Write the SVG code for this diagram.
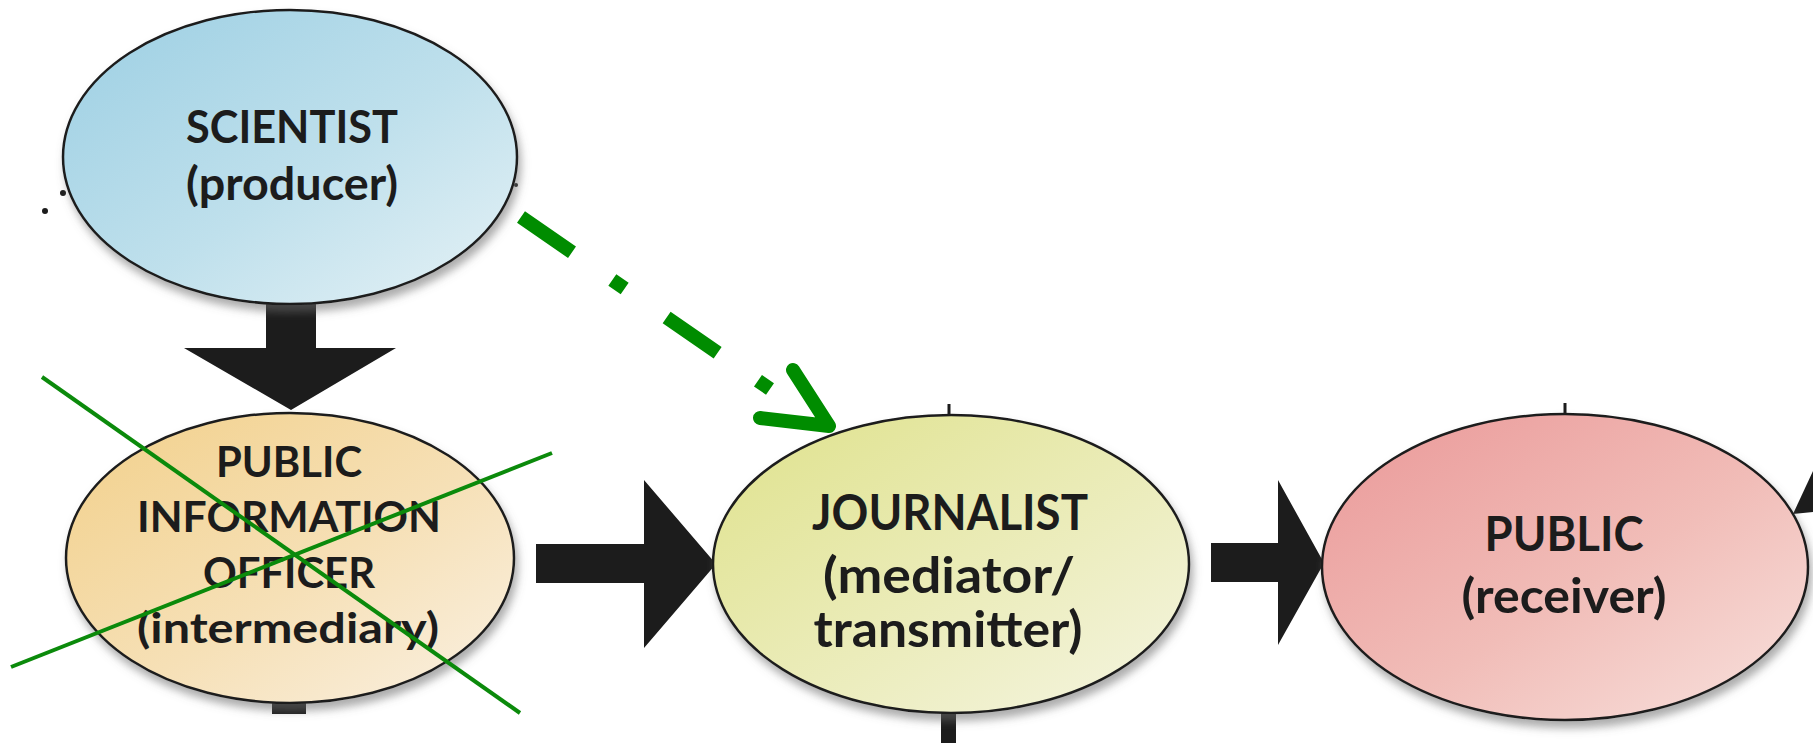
<svg xmlns="http://www.w3.org/2000/svg" width="1813" height="743" viewBox="0 0 1813 743">
<style>
.node ellipse{stroke:#1e1e1e;stroke-width:2.5}
.lbl{font-family:"Lato","Open Sans","Liberation Sans",Arial,sans-serif;font-weight:700;fill:#1c1c1c;text-anchor:middle}
.blk{fill:#1c1c1c}
.xline{stroke:#0b8a0b;stroke-width:4;stroke-linecap:butt}
.gdash{stroke:#008c00;stroke-width:14;fill:none}
</style>
<defs>
<filter id="sh" x="-10%" y="-10%" width="125%" height="130%">
<feDropShadow dx="3" dy="7" stdDeviation="4" flood-color="#6b6b6b" flood-opacity="0.55"/>
</filter>
<linearGradient id="gBlue" x1="0" y1="0" x2="1" y2="1">
<stop offset="0" stop-color="#9ccfe3"/><stop offset="0.55" stop-color="#bfe0ec"/><stop offset="1" stop-color="#e6f2f6"/>
</linearGradient>
<linearGradient id="gOrange" x1="0" y1="0" x2="1" y2="1">
<stop offset="0" stop-color="#f2d08a"/><stop offset="0.55" stop-color="#f6e0b6"/><stop offset="1" stop-color="#faf1e3"/>
</linearGradient>
<linearGradient id="gYellow" x1="0" y1="0" x2="1" y2="1">
<stop offset="0" stop-color="#dfe28c"/><stop offset="0.55" stop-color="#ebecba"/><stop offset="1" stop-color="#f5f5e2"/>
</linearGradient>
<linearGradient id="gRed" x1="0" y1="0" x2="1" y2="1">
<stop offset="0" stop-color="#ea9898"/><stop offset="0.55" stop-color="#f1bdb8"/><stop offset="1" stop-color="#f8e2de"/>
</linearGradient>
</defs>
<rect width="1813" height="743" fill="#ffffff"/>

<g id="connectors">
<polygon class="blk" points="266,298 316,298 316,348 396,348 291,410 184,348 266,348"/>
<polygon class="blk" points="536,544 644,544 644,480 716,564 644,648 644,583 536,583"/>
<polygon class="blk" points="1211,543 1278,543 1278,480 1324,563 1278,645 1278,582 1211,582"/>
<polygon class="blk" points="1793,514 1813,471 1813,512"/>
<rect class="blk" x="272" y="700" width="34" height="14"/>
<rect class="blk" x="941" y="705" width="15" height="38"/>
<rect class="blk" x="947.5" y="404" width="3" height="12"/>
<rect class="blk" x="1563.5" y="403" width="3" height="12"/>
<circle class="blk" cx="45" cy="211" r="3"/>
<circle class="blk" cx="63" cy="193" r="3"/>
<circle class="blk" cx="516" cy="185" r="2"/>
</g>

<g id="node-scientist" class="node">
<ellipse cx="290" cy="157" rx="227" ry="147" fill="url(#gBlue)" filter="url(#sh)"/>
<text class="lbl" x="292" y="143" font-size="46" textLength="212" lengthAdjust="spacingAndGlyphs">SCIENTIST</text>
<text class="lbl" x="292" y="200" font-size="46" textLength="212" lengthAdjust="spacingAndGlyphs">(producer)</text>
</g>

<g id="node-pio" class="node">
<ellipse cx="290" cy="558" rx="224" ry="145" fill="url(#gOrange)" filter="url(#sh)"/>
<text class="lbl" x="289" y="477" font-size="42" textLength="146" lengthAdjust="spacingAndGlyphs">PUBLIC</text>
<text class="lbl" x="289" y="532" font-size="42" textLength="304" lengthAdjust="spacingAndGlyphs">INFORMATION</text>
<text class="lbl" x="289" y="588" font-size="42" textLength="172" lengthAdjust="spacingAndGlyphs">OFFICER</text>
<text class="lbl" x="288" y="643" font-size="42" textLength="302" lengthAdjust="spacingAndGlyphs">(intermediary)</text>
</g>

<g id="node-journalist" class="node">
<ellipse cx="951" cy="564" rx="238" ry="149" fill="url(#gYellow)" filter="url(#sh)"/>
<text class="lbl" x="950" y="530" font-size="50" textLength="276" lengthAdjust="spacingAndGlyphs">JOURNALIST</text>
<text class="lbl" x="949" y="593" font-size="50" textLength="252" lengthAdjust="spacingAndGlyphs">(mediator/</text>
<text class="lbl" x="948" y="647" font-size="50" textLength="269" lengthAdjust="spacingAndGlyphs">transmitter)</text>
</g>

<g id="node-public" class="node">
<ellipse cx="1565" cy="567" rx="243" ry="153" fill="url(#gRed)" filter="url(#sh)"/>
<text class="lbl" x="1564" y="551" font-size="48" textLength="159" lengthAdjust="spacingAndGlyphs">PUBLIC</text>
<text class="lbl" x="1564" y="613" font-size="48" textLength="205" lengthAdjust="spacingAndGlyphs">(receiver)</text>
</g>

<g id="annotations">
<path class="gdash" d="M521,217 L770,389" stroke-dasharray="62 49 15 51"/>
<path class="gdash" d="M793,370 L829,426 L760,418" stroke-linecap="round" stroke-linejoin="round"/>
<line class="xline" x1="42" y1="377" x2="520" y2="713"/>
<line class="xline" x1="11" y1="667" x2="552" y2="453"/>
</g>
</svg>
